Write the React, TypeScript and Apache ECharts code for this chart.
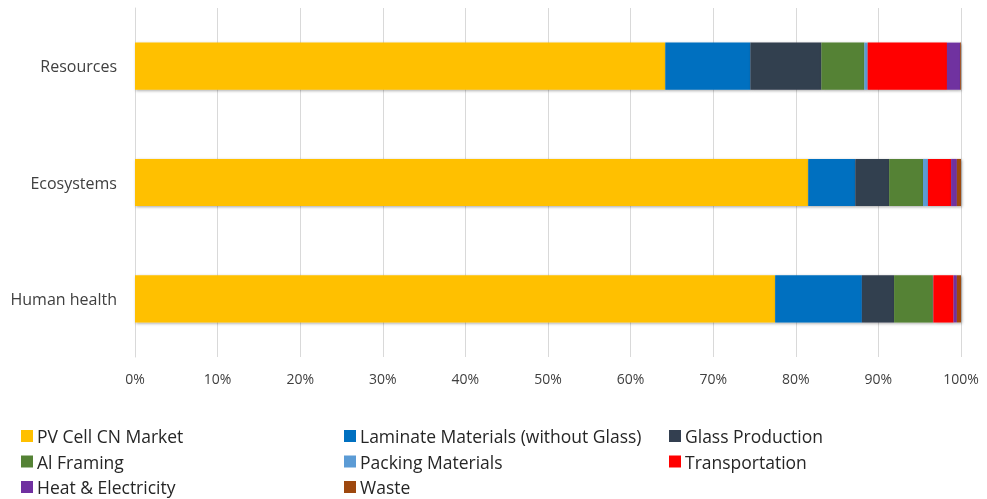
import React, { useEffect, useRef } from "react";
import * as echarts from "echarts";

const categories = ["Human health", "Ecosystems", "Resources"];
const seriesNames = [
  "PV Cell CN Market",
  "Laminate Materials (without Glass)",
  "Glass Production",
  "Al Framing",
  "Packing Materials",
  "Transportation",
  "Heat & Electricity",
  "Waste",
];
const colors = ["#FFC000", "#0070C0", "#333F50", "#548235", "#5B9BD5", "#FF0000", "#7030A0", "#9E480E"];
// values per series: [Human health, Ecosystems, Resources] in %
const pvCell = [77.5, 81.5, 64.2];
const laminate = [10.5, 5.7, 10.3];
const glass = [3.9, 4.1, 8.6];
const alFraming = [4.7, 4.1, 5.2];
const packing = [0.05, 0.6, 0.4];
const transport = [2.45, 2.8, 9.6];
const heat = [0.4, 0.7, 1.6];
const waste = [0.5, 0.5, 0.1];
const seriesValues = [pvCell, laminate, glass, alFraming, packing, transport, heat, waste];

const legendCols = [
  { x: 21, names: [seriesNames[0], seriesNames[3], seriesNames[6]] },
  { x: 344, names: [seriesNames[1], seriesNames[4], seriesNames[7]] },
  { x: 669, names: [seriesNames[2], seriesNames[5]] },
];

export default function App() {
  const ref = useRef<HTMLDivElement>(null);
  useEffect(() => {
    if (!ref.current) return;
    const chart = echarts.init(ref.current, null, { renderer: "svg" });
    const font = "'Open Sans', 'Noto Sans', sans-serif";
    chart.setOption({
      animation: false,
      color: colors,
      textStyle: { fontFamily: font },
      grid: { left: 135, right: 26, top: 8, bottom: 142, containLabel: false },
      xAxis: {
        type: "value",
        min: 0,
        max: 100,
        interval: 10,
        axisLabel: { formatter: "{value}%", color: "#404040", fontSize: 14, margin: 14, fontFamily: font },
        splitLine: { show: true, lineStyle: { color: "#d9d9d9", width: 1 } },
        axisLine: { show: false },
        axisTick: { show: false },
      },
      yAxis: {
        type: "category",
        data: categories,
        axisLabel: { color: "#404040", fontSize: 16, margin: 18, fontFamily: font },
        axisLine: { show: true, lineStyle: { color: "#d9d9d9" } },
        axisTick: { show: false },
        splitLine: { show: false },
      },
      legend: legendCols.map((c) => ({
        orient: "vertical",
        left: c.x,
        top: 427,
        height: 80,
        padding: 0,
        itemWidth: 12,
        itemHeight: 12,
        itemGap: 7.5,
        icon: "rect",
        data: c.names,
        textStyle: { fontSize: 17.5, lineHeight: 18, color: "#262626", fontFamily: font, padding: [0, 0, 0, -1] },
      })),
      series: seriesNames.map((name, i) => ({
        name,
        type: "bar",
        stack: "total",
        barWidth: "40.5%",
        data: seriesValues[i],
        itemStyle: {
          color: colors[i],
          shadowColor: "rgba(0,0,0,0.35)",
          shadowBlur: 3,
          shadowOffsetX: 1,
          shadowOffsetY: 1,
        },
      })),
    });
    return () => chart.dispose();
  }, []);
  return <div ref={ref} style={{ position: "fixed", left: 0, top: 0, width: 987, height: 499 }} />;
}
